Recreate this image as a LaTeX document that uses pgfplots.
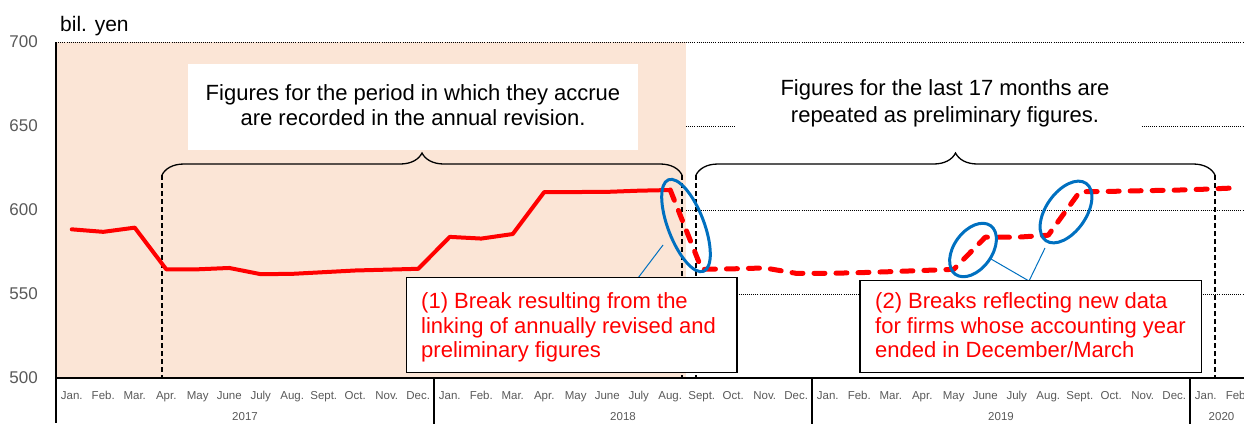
\documentclass[border=0pt]{standalone}
\usepackage{pgfplots}
\pgfplotsset{compat=1.18}
\usepackage{fontspec}
\setmainfont{Liberation Sans}
\usetikzlibrary{decorations.pathreplacing}
\definecolor{peach}{HTML}{FBE5D6}
\definecolor{tgray}{HTML}{595959}
\definecolor{eblue}{HTML}{0070C0}
\newcommand{\PX}[2]{(axis cs:{(#1-56)/31.5},{700-(#2-42)/1.68})}
\newcommand{\bigf}{\fontsize{22}{25}\selectfont}
\begin{document}
\begin{tikzpicture}
\useasboundingbox (-56pt,-45pt) rectangle (1188pt,378pt);
\begin{axis}[
  at={(0,0)}, anchor=south west,
  scale only axis, width=1188pt, height=336pt,
  xmin=0, xmax=37.7143, ymin=500, ymax=700,
  clip=false,
  axis line style={draw=none},
  major tick length=0pt,
  xtick={0.5,1.5,...,37.5},
  xticklabels={Jan.,Feb.,Mar.,Apr.,May,June,July,Aug.,Sept.,Oct.,Nov.,Dec.,
               Jan.,Feb.,Mar.,Apr.,May,June,July,Aug.,Sept.,Oct.,Nov.,Dec.,
               Jan.,Feb.,Mar.,Apr.,May,June,July,Aug.,Sept.,Oct.,Nov.,Dec.,
               Jan.,Feb.},
  xticklabel style={font=\fontsize{11.5}{12}\selectfont, text=tgray, anchor=base, yshift=-21pt, inner sep=0pt},
  ytick={500,550,...,700},
  yticklabel style={font=\fontsize{17}{18}\selectfont, text=tgray, anchor=east, inner sep=0pt, xshift=-18pt},
  /pgf/number format/assume math mode=true,
]
% shaded period
\fill[peach] (axis cs:0,500) rectangle (axis cs:20,700);
% dotted gridlines
\draw[black, line width=0.9pt, dash pattern=on 0.9pt off 1.2pt] (axis cs:20,550) -- (axis cs:37.7143,550);
\draw[black, line width=0.9pt, dash pattern=on 0.9pt off 1.2pt] (axis cs:20,600) -- (axis cs:37.7143,600);
\draw[black, line width=0.9pt, dash pattern=on 0.9pt off 1.2pt] (axis cs:20,650) -- (axis cs:37.7143,650);
\draw[black, line width=0.9pt, dash pattern=on 0.9pt off 1.2pt] (axis cs:0,700) -- (axis cs:37.7143,700);
% heading boxes
\fill[white] \PX{188}{64} rectangle \PX{638}{150};
\fill[white] \PX{735}{62} rectangle \PX{1142}{150};
\node[anchor=base, inner sep=0pt, font=\bigf] at \PX{413}{100} {Figures for the period in which they accrue};
\node[anchor=base, inner sep=0pt, font=\bigf] at \PX{413}{125} {are recorded in the annual revision.};
\node[anchor=base, inner sep=0pt, font=\bigf] at \PX{945}{95} {Figures for the last 17 months are};
\node[anchor=base, inner sep=0pt, font=\bigf] at \PX{945}{122} {repeated as preliminary figures.};
% braces
\draw[black, line width=1.3pt, decorate, decoration={brace, amplitude=22pt}] \PX{162}{175} -- \PX{682}{175};
\draw[black, line width=1.3pt, decorate, decoration={brace, amplitude=22pt}] \PX{696}{175} -- \PX{1215}{175};
% dashed verticals
\draw[black, line width=1.3pt, dash pattern=on 5pt off 3pt] \PX{162}{175} -- \PX{162}{378};
\draw[black, line width=1.3pt, dash pattern=on 5pt off 3pt] \PX{682}{175} -- \PX{682}{378};
\draw[black, line width=1.3pt, dash pattern=on 5pt off 3pt] \PX{696}{175} -- \PX{696}{378};
\draw[black, line width=1.3pt, dash pattern=on 5pt off 3pt] \PX{1215}{175} -- \PX{1215}{378};
% axis lines
\draw[black, line width=1.5pt] \PX{56}{42} -- \PX{56}{423};
\draw[black, line width=1.3pt] \PX{56}{378} -- \PX{1244}{378};
\draw[black, line width=1.3pt] (axis cs:12,500) -- ++(0,-45pt);
\draw[black, line width=1.3pt] (axis cs:24,500) -- ++(0,-45pt);
\draw[black, line width=1.3pt] (axis cs:36,500) -- ++(0,-45pt);
% year labels
\node[anchor=base, inner sep=0pt, text=tgray, font=\fontsize{11.5}{12}\selectfont] at (axis cs:6,500) [yshift=-42pt] {2017};
\node[anchor=base, inner sep=0pt, text=tgray, font=\fontsize{11.5}{12}\selectfont] at (axis cs:18,500) [yshift=-42pt] {2018};
\node[anchor=base, inner sep=0pt, text=tgray, font=\fontsize{11.5}{12}\selectfont] at (axis cs:30,500) [yshift=-42pt] {2019};
\node[anchor=base, inner sep=0pt, text=tgray, font=\fontsize{11.5}{12}\selectfont] at (axis cs:37,500) [yshift=-42pt] {2020};
% unit label
\node[anchor=base west, inner sep=0pt, font=\fontsize{21}{22}\selectfont] at \PX{60}{31} {bil. yen};
% data: annually revised (solid)
\addplot[red, line width=4pt, line cap=round, line join=round] coordinates {
(0.5,588.5)(1.5,587.0)(2.5,589.5)(3.5,564.7)(4.5,564.7)(5.5,565.5)(6.5,561.8)(7.5,562.0)
(8.5,563.0)(9.5,564.0)(10.5,564.5)(11.5,565.0)(12.5,584.0)(13.5,583.0)(14.5,585.7)
(15.5,610.7)(16.5,610.7)(17.5,610.8)(18.5,611.5)(19.5,611.9)};
% data: preliminary (dashed)
\addplot[red, line width=5pt, line cap=round, line join=round, dash pattern=on 11pt off 11pt] coordinates {
(19.5,611.9)(20.5,564.7)(21.5,565.0)(22.5,565.5)(23.5,562.3)(24.5,562.3)(25.5,562.7)
(26.5,563.3)(27.5,564.0)(28.5,564.7)(29.5,583.8)(30.5,583.8)(31.5,585.0)(32.5,610.9)
(33.5,611.1)(34.5,611.5)(35.5,611.8)(36.5,612.4)(37.5,613.2)};
% ellipses
\draw[eblue, line width=3pt, rotate around={-69:\PX{686}{225.5}}] \PX{686}{225.5} ellipse [x radius=49pt, y radius=18pt];
\draw[eblue, line width=3pt, rotate around={54:\PX{973}{250}}] \PX{973}{250} ellipse [x radius=30pt, y radius=19pt];
\draw[eblue, line width=3pt, rotate around={55:\PX{1066}{212}}] \PX{1066}{212} ellipse [x radius=35pt, y radius=20pt];
% callout lines
\draw[eblue, line width=1pt] \PX{663}{245} -- \PX{638}{278};
\draw[eblue, line width=1pt] \PX{991}{259} -- \PX{1029}{281};
\draw[eblue, line width=1pt] \PX{1045}{248} -- \PX{1029}{281};
% callout boxes
\draw[black, line width=1.4pt, fill=white] \PX{406.5}{277.5} rectangle \PX{737}{372.5};
\draw[black, line width=1.4pt, fill=white] \PX{860}{280.5} rectangle \PX{1201.5}{372.5};
\node[anchor=base west, inner sep=0pt, text=red, font=\bigf] at \PX{421}{308.5} {(1) Break resulting from the};
\node[anchor=base west, inner sep=0pt, text=red, font=\bigf] at \PX{421}{333} {linking of annually revised and};
\node[anchor=base west, inner sep=0pt, text=red, font=\bigf] at \PX{421}{357.5} {preliminary figures};
\node[anchor=base west, inner sep=0pt, text=red, font=\bigf] at \PX{875}{308.5} {(2) Breaks reflecting new data};
\node[anchor=base west, inner sep=0pt, text=red, font=\bigf] at \PX{875}{333} {for firms whose accounting year};
\node[anchor=base west, inner sep=0pt, text=red, font=\bigf] at \PX{875}{357.5} {ended in December/March};
\end{axis}
\end{tikzpicture}
\end{document}
